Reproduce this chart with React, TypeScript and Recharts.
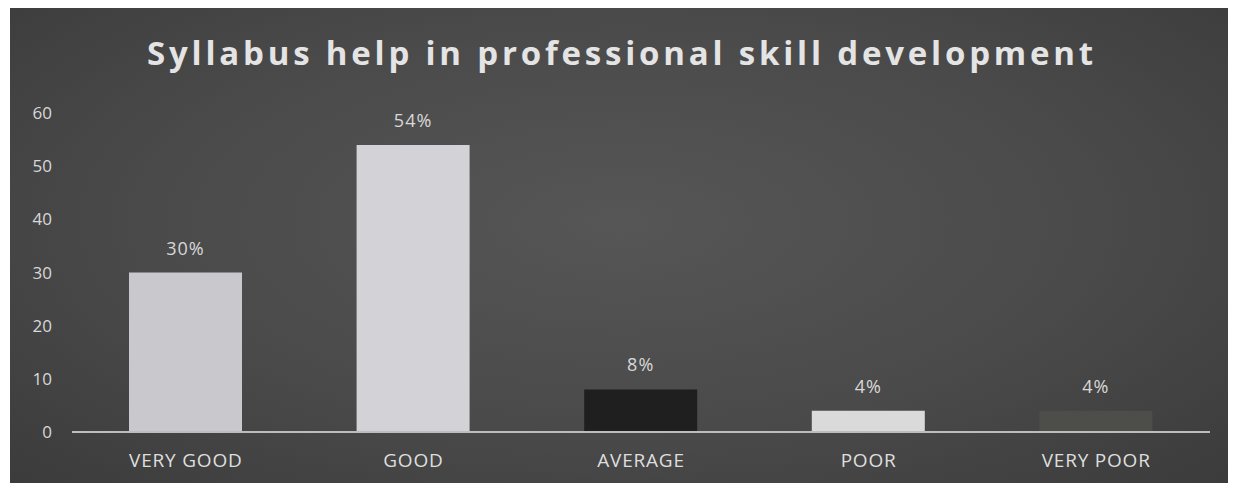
import { BarChart, Bar, XAxis, YAxis, LabelList, Cell } from 'recharts'

const categories = ['VERY GOOD', 'GOOD', 'AVERAGE', 'POOR', 'VERY POOR']
const values = [30, 54, 8, 4, 4]
const percentLabels = ['30%', '54%', '8%', '4%', '4%']
const barColors = ['#c9c9cd', '#d3d3d7', '#1f1f20', '#dadada', '#4d4d4a']
const yTicks = [0, 10, 20, 30, 40, 50, 60]

const chartData = categories.map((name, i) => ({
  name,
  value: values[i],
  label: percentLabels[i],
}))

const W = 1220
const H = 480

export default function App() {
  return (
    <div style={{ position: 'relative', width: 1236, height: 491, margin: -8, background: '#fff', overflow: 'hidden' }}>
      <div
        style={{
          position: 'absolute',
          left: 10,
          top: 7,
          width: W,
          height: H,
          background: 'radial-gradient(ellipse at 50% 45%, #565656 0%, #4a4a4a 55%, #3b3b3b 100%)',
        }}
      >
        <BarChart
          width={W}
          height={H}
          data={chartData}
          margin={{ top: 106, right: 20, bottom: 25, left: 12 }}
        >
          <XAxis
            dataKey="name"
            axisLine={{ stroke: '#bdbdbd', strokeWidth: 2 }}
            tickLine={false}
            tickMargin={16}
            height={30}
            tick={{ fontSize: 19, fill: '#dedede', fontFamily: 'Open Sans', letterSpacing: 0.8 }}
            interval={0}
          />
          <YAxis
            domain={[0, 60]}
            ticks={yTicks}
            width={50}
            axisLine={false}
            tickLine={false}
            tickMargin={14}
            tick={{ fontSize: 17, fill: '#d8d8d8', fontFamily: 'Open Sans' }}
          />
          <Bar dataKey="value" isAnimationActive={false} barSize={113}>
            {chartData.map((d, i) => (
              <Cell key={d.name} fill={barColors[i]} />
            ))}
            <LabelList
              dataKey="label"
              position="top"
              offset={18}
              fill="#d8d8d8"
              fontSize={18}
              fontFamily="Open Sans"
              letterSpacing={1}
            />
          </Bar>
        </BarChart>
        <svg width={W} height={H} style={{ position: 'absolute', left: 0, top: 0, pointerEvents: 'none' }}>
          <text
            x={612}
            y={58}
            textAnchor="middle"
            fill="#e4e4e4"
            fontSize={33}
            fontWeight="bold"
            fontFamily="Open Sans"
            letterSpacing={3.8}
          >
            Syllabus help in professional skill development
          </text>
        </svg>
      </div>
    </div>
  )
}
